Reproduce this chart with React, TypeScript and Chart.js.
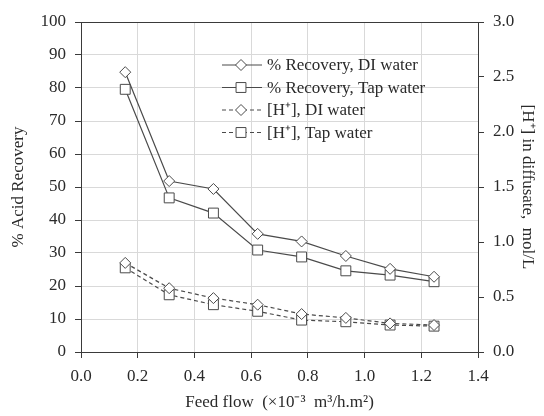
import { useEffect, useRef } from 'react';
import { Chart, registerables } from 'chart.js';

Chart.register(...registerables);

const feedFlow = [0.156, 0.311, 0.467, 0.623, 0.778, 0.934, 1.09, 1.245];
const recoveryDI = [84.8, 51.8, 49.4, 35.8, 33.5, 29.1, 25.2, 22.8];
const recoveryTap = [79.6, 46.7, 42.1, 30.9, 28.8, 24.6, 23.3, 21.3];
const hDI = [0.81, 0.58, 0.49, 0.43, 0.345, 0.31, 0.26, 0.245];
const hTap = [0.765, 0.52, 0.43, 0.37, 0.29, 0.275, 0.245, 0.235];
const seriesNames = [
  '% Recovery, DI water',
  '% Recovery, Tap water',
  '[H\u207A], DI water',
  '[H\u207A], Tap water',
];

const FONT = 'Liberation Serif, Times New Roman, serif';
const LINE = '#4a4a4a';
const AXIS = '#3a3a3a';
const GRID = '#d9d9d9';
const TEXT = '#2a2a2a';

const toXY = (ys: number[]) => feedFlow.map((x, i) => ({ x, y: ys[i] }));

function drawMarker(ctx: CanvasRenderingContext2D, style: string, x: number, y: number, r: number) {
  ctx.beginPath();
  if (style === 'rectRot') {
    ctx.moveTo(x, y - r);
    ctx.lineTo(x + r, y);
    ctx.lineTo(x, y + r);
    ctx.lineTo(x - r, y);
    ctx.closePath();
  } else {
    const s = Math.SQRT1_2 * r;
    ctx.rect(x - s, y - s, 2 * s, 2 * s);
  }
  ctx.fill();
  ctx.stroke();
}

const framePlugin = {
  id: 'frameAndLegend',
  afterDraw(chart: any) {
    const { ctx, chartArea } = chart;
    ctx.save();
    // top frame line
    ctx.strokeStyle = AXIS;
    ctx.lineWidth = 1;
    ctx.setLineDash([]);
    ctx.beginPath();
    ctx.moveTo(chartArea.left, chartArea.top + 0.5);
    ctx.lineTo(chartArea.right, chartArea.top + 0.5);
    ctx.stroke();

    // legend
    const x0 = chartArea.left + 141;
    const y0 = chartArea.top + 43;
    const rowH = 22.5;
    chart.data.datasets.forEach((ds: any, i: number) => {
      const y = y0 + i * rowH;
      ctx.strokeStyle = ds.borderColor;
      ctx.lineWidth = ds.borderWidth;
      ctx.setLineDash(ds.borderDash || []);
      ctx.beginPath();
      ctx.moveTo(x0, y);
      ctx.lineTo(x0 + 40, y);
      ctx.stroke();
      ctx.setLineDash([]);
      ctx.fillStyle = ds.pointBackgroundColor;
      ctx.strokeStyle = ds.pointBorderColor;
      ctx.lineWidth = 1;
      drawMarker(ctx, ds.pointStyle, x0 + 19, y, ds.pointRadius);
      ctx.fillStyle = TEXT;
      ctx.font = `17px ${FONT}`;
      ctx.textBaseline = 'middle';
      ctx.textAlign = 'left';
      ctx.fillText(ds.label, x0 + 45, y + 1);
    });
    ctx.restore();
  },
};

export default function App() {
  const ref = useRef<HTMLCanvasElement>(null);

  useEffect(() => {
    if (!ref.current) return;
    const mk = (label: string, data: any[], axis: string, style: string, r: number, dashed: boolean) => ({
      label,
      data,
      yAxisID: axis,
      borderColor: LINE,
      borderWidth: 1.2,
      borderDash: dashed ? [4, 3] : [],
      pointStyle: style,
      pointRadius: r,
      pointBackgroundColor: '#ffffff',
      pointBorderColor: LINE,
      pointBorderWidth: 1,
      fill: false,
      tension: 0,
    });
    const chart = new Chart(ref.current, {
      type: 'line',
      data: {
        datasets: [
          mk(seriesNames[0], toXY(recoveryDI), 'y', 'rectRot', 5.5, false),
          mk(seriesNames[1], toXY(recoveryTap), 'y', 'rect', 7, false),
          mk(seriesNames[2], toXY(hDI), 'y1', 'rectRot', 5.5, true),
          mk(seriesNames[3], toXY(hTap), 'y1', 'rect', 7, true),
        ],
      },
      options: {
        animation: false,
        responsive: false,
        maintainAspectRatio: false,
        layout: { padding: { top: 22, left: 0, right: 0, bottom: 0 } },
        plugins: { legend: { display: false }, tooltip: { enabled: false } },
        scales: {
          x: {
            type: 'linear',
            min: 0,
            max: 1.4,
            afterFit: (s: any) => { s.height = 64; },
            ticks: {
              stepSize: 0.2,
              color: TEXT,
              font: { family: FONT, size: 17 },
              padding: 8,
              maxRotation: 0,
              callback: (v: any) => Number(v).toFixed(1),
            },
            grid: { color: GRID, tickColor: AXIS, tickLength: 6, drawTicks: true },
            border: { display: true, color: AXIS, width: 1 },
            title: {
              display: true,
              text: 'Feed flow  (\u00D710\u207B\u00B3  m\u00B3/h.m\u00B2)',
              color: TEXT,
              font: { family: FONT, size: 17 },
              padding: { top: 3, bottom: 3 },
            },
          },
          y: {
            position: 'left',
            min: 0,
            max: 100,
            afterFit: (s: any) => { s.width = 81; },
            ticks: {
              stepSize: 10,
              color: TEXT,
              font: { family: FONT, size: 17 },
              padding: 9,
            },
            grid: { color: GRID, tickColor: AXIS, tickLength: 6 },
            border: { display: true, color: AXIS, width: 1 },
            title: {
              display: true,
              text: '% Acid Recovery',
              color: TEXT,
              font: { family: FONT, size: 17 },
              padding: { top: 8, bottom: 0 },
            },
          },
          y1: {
            position: 'right',
            min: 0,
            max: 3,
            afterFit: (s: any) => { s.width = 66; },
            ticks: {
              stepSize: 0.5,
              color: TEXT,
              font: { family: FONT, size: 17 },
              padding: 9,
              callback: (v: any) => Number(v).toFixed(1),
            },
            grid: { drawOnChartArea: false, tickColor: AXIS, tickLength: 6 },
            border: { display: true, color: AXIS, width: 1 },
            title: {
              display: true,
              text: '[H\u207A] in diffusate,  mol/L',
              color: TEXT,
              font: { family: FONT, size: 17 },
              padding: { top: 6, bottom: 0 },
            },
          },
        },
      },
      plugins: [framePlugin],
    } as any);
    return () => chart.destroy();
  }, []);

  return (
    <div style={{ position: 'absolute', left: 0, top: 0, width: 544, height: 416, background: '#fff' }}>
      <canvas ref={ref} width={544} height={416} style={{ display: 'block', width: 544, height: 416 }} />
    </div>
  );
}
